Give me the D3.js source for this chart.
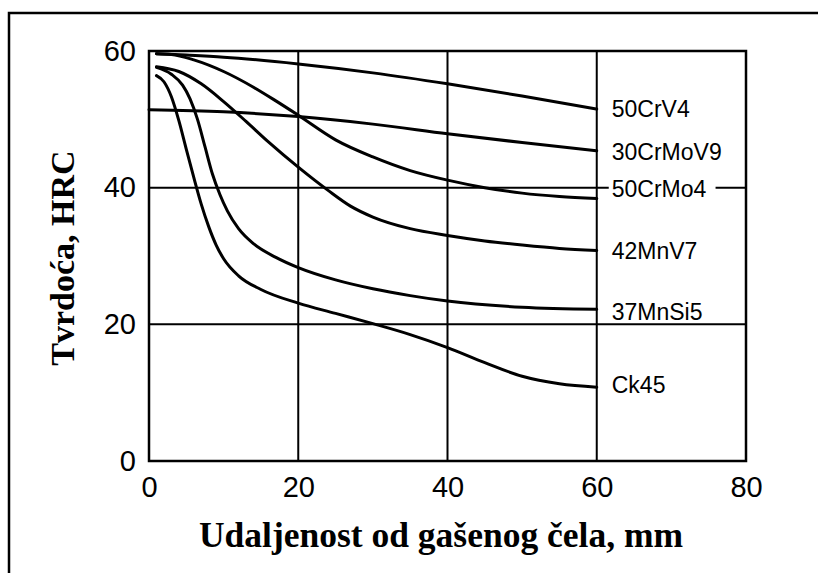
<!DOCTYPE html>
<html>
<head>
    <meta charset="utf-8" />
    <title>Tvrdoća</title>
    <script src="https://d3js.org/d3.v7.min.js"></script>
    <style type="text/css">
        body { margin: 0; background: #fff; }
        .curve { fill: none; stroke: #000; stroke-width: 3; stroke-linecap: round; }
        .grid line { stroke: #000; stroke-width: 2; }
        .tick-label { font-family: "Liberation Sans", Arial, sans-serif; font-size: 29px; fill: #000; }
        .series-label { font-family: "Liberation Sans", Arial, sans-serif; font-size: 23px; fill: #000; }
        .axis-title { font-family: "Liberation Serif", "Times New Roman", serif; font-weight: bold; fill: #000; }
    </style>
</head>
<body>
    <svg id="chart" width="818" height="573"></svg>

    <script>
        // distance from quenched end (mm) / hardness (HRC)
        var xTicks = [0, 20, 40, 60, 80];
        var yTicks = [0, 20, 40, 60];

        var names = ['50CrV4', '30CrMoV9', '50CrMo4', '42MnV7', '37MnSi5', 'Ck45'];

        var cr_v4 = [[1, 59.6], [5, 59.4], [10, 59.1], [20, 58.1], [30, 56.8], [40, 55.2], [50, 53.4], [60, 51.5]];
        var crmo_v9 = [[0, 51.4], [10, 51.1], [20, 50.4], [30, 49.3], [40, 47.9], [50, 46.6], [60, 45.4]];
        var crmo4 = [[1, 59.6], [3, 59.5], [6, 58.7], [10, 57], [14, 54.7], [17, 52.7], [20, 50.6], [25, 47],
            [30, 44.5], [35, 42.5], [40, 41.1], [45, 40], [50, 39.2], [55, 38.7], [60, 38.4]];
        var mnv7 = [[1, 57.7], [4, 57], [7, 55.2], [10, 52.6], [13, 49.7], [16, 46.7], [20, 43], [24, 39.6],
            [27, 37.3], [30, 35.7], [35, 34], [40, 33], [45, 32.2], [50, 31.6], [55, 31.1], [60, 30.8]];
        var mnsi5 = [[1, 57.6], [3, 56.6], [4.5, 55], [5.5, 53], [6.5, 50], [7.5, 46], [8.5, 42], [9.5, 39],
            [10.5, 36.6], [12, 34], [14, 31.8], [17, 29.8], [20, 28.3], [25, 26.5], [30, 25.2], [35, 24.2],
            [40, 23.4], [50, 22.5], [60, 22.2]];
        var ck45 = [[1, 56.4], [2, 55.5], [3, 53.3], [4, 49.8], [5, 45.6], [6, 41.5], [7, 37.6], [8, 34.3],
            [9, 31.6], [10, 29.6], [12, 27.1], [15, 25.1], [20, 23.1], [25, 21.6], [30, 20.1], [35, 18.5],
            [40, 16.6], [45, 14.4], [50, 12.4], [55, 11.3], [60, 10.8]];

        var series = [cr_v4, crmo_v9, crmo4, mnv7, mnsi5, ck45];
        // label baselines in data units (hardness)
        var labelAt = [50.4, 44.1, 38.6, 29.6, 20.7, 9.9];

        var svg = d3.select('#chart');

        // outer figure frame, only left and top show inside the picture
        svg.append('rect')
            .attr('x', 9).attr('y', 13)
            .attr('width', 840).attr('height', 600)
            .attr('fill', 'none').attr('stroke', '#000').attr('stroke-width', 2.5);

        var xScale = d3.scaleLinear().domain([0, 80]).range([149, 746]);
        var yScale = d3.scaleLinear().domain([0, 60]).range([461, 51]);

        // grid
        var grid = svg.append('g').attr('class', 'grid');
        grid.selectAll('.vx')
            .data([20, 40, 60])
            .enter().append('line')
            .attr('x1', function (d) { return xScale(d); })
            .attr('x2', function (d) { return xScale(d); })
            .attr('y1', yScale(0)).attr('y2', yScale(60));
        grid.selectAll('.hy')
            .data([20, 40])
            .enter().append('line')
            .attr('y1', function (d) { return yScale(d); })
            .attr('y2', function (d) { return yScale(d); })
            .attr('x1', xScale(0)).attr('x2', xScale(80));

        // axes: labels only
        var xAxis = svg.append('g')
            .attr('transform', 'translate(0,' + yScale(0) + ')')
            .call(d3.axisBottom(xScale).tickValues(xTicks).tickSize(0).tickPadding(15));
        var yAxis = svg.append('g')
            .attr('transform', 'translate(' + xScale(0) + ',0)')
            .call(d3.axisLeft(yScale).tickValues(yTicks).tickSize(0).tickPadding(13));
        [xAxis, yAxis].forEach(function (a) {
            a.select('.domain').remove();
            a.selectAll('text').attr('class', 'tick-label').attr('font-size', null).attr('font-family', null);
        });

        var line = d3.line()
            .x(function (d) { return xScale(d[0]); })
            .y(function (d) { return yScale(d[1]); })
            .curve(d3.curveMonotoneX);

        svg.selectAll('.curve')
            .data(series)
            .enter().append('path')
            .attr('class', 'curve')
            .attr('d', line);

        // series labels right of the 60 mm line
        var labels = svg.selectAll('.lab')
            .data(names)
            .enter().append('g');
        labels.each(function (d, i) {
            var g = d3.select(this);
            var t = g.append('text')
                .attr('class', 'series-label')
                .attr('x', xScale(60) + 15)
                .attr('y', yScale(labelAt[i]))
                .text(d);
            if (d === '50CrMo4') {
                var b = t.node().getBBox();
                g.insert('rect', 'text')
                    .attr('x', b.x - 3).attr('y', b.y)
                    .attr('width', b.width + 12).attr('height', b.height)
                    .attr('fill', '#fff');
            }
        });

        // plot frame
        svg.append('rect')
            .attr('x', xScale(0)).attr('y', yScale(60))
            .attr('width', xScale(80) - xScale(0))
            .attr('height', yScale(0) - yScale(60))
            .attr('fill', 'none').attr('stroke', '#000').attr('stroke-width', 2.5);

        // titles
        svg.append('text')
            .attr('class', 'axis-title')
            .attr('x', 441).attr('y', 547)
            .attr('text-anchor', 'middle')
            .attr('font-size', 35.5)
            .text('Udaljenost od gašenog čela, mm');

        svg.append('text')
            .attr('class', 'axis-title')
            .attr('transform', 'translate(74,258) rotate(-90)')
            .attr('text-anchor', 'middle')
            .attr('font-size', 34)
            .text('Tvrdoća, HRC');
    </script>
</body>
</html>
